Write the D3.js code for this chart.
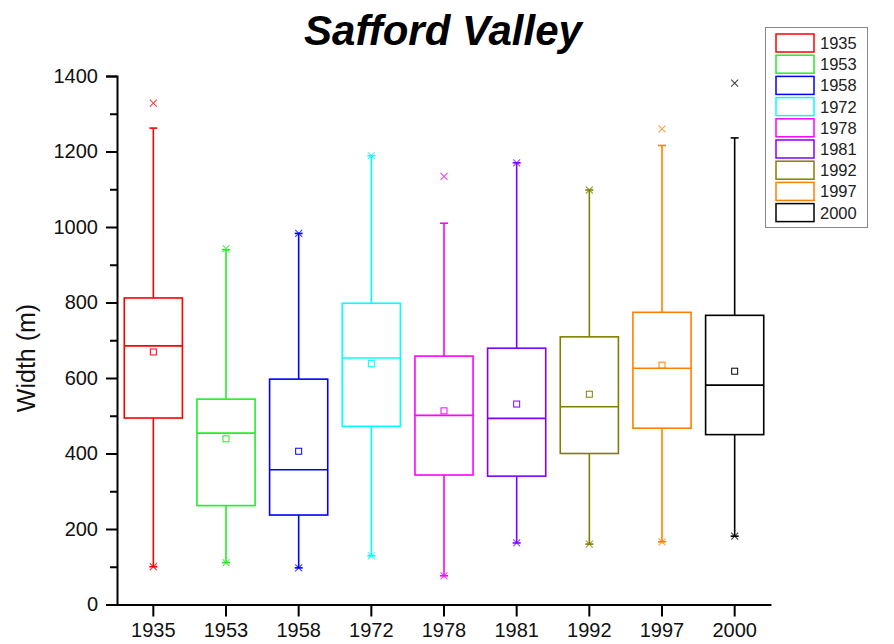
<!DOCTYPE html>
<html>
<head>
<meta charset="utf-8">
<script src="https://cdn.jsdelivr.net/npm/d3@7"></script>
<style>
    body { margin: 0; background: #fff; }
    text { font-family: "Liberation Sans", Arial, sans-serif; }
</style>
</head>
<body>
<div id="chartArea"></div>
<script>
const years = ["1935", "1953", "1958", "1972", "1978", "1981", "1992", "1997", "2000"];
const q1Values = [494, 262, 237, 472, 343, 340, 400, 467, 450];
const medianValues = [685, 454, 357, 653, 501, 493, 524, 626, 581];
const q3Values = [812, 544, 597, 798, 658, 679, 709, 774, 766];
const meanValues = [669, 439, 406, 638, 513, 531, 557, 634, 618];
const whiskerLow = [100, 111, 97, 129, 76, 163, 160, 166, 181];
const whiskerHigh = [1262, 940, 983, 1189, 1010, 1170, 1098, 1216, 1236];
const minValues = [100, 111, 97, 129, 76, 163, 160, 166, 181];
const maxValues = [1328, 943, 983, 1189, 1134, 1170, 1098, 1260, 1381];
const yTicks = [0, 200, 400, 600, 800, 1000, 1200, 1400];
const yMinorTicks = [100, 300, 500, 700, 900, 1100, 1300];
const colors = ["#FF0000", "#22EE22", "#0000FF", "#00FFFF", "#FF00FF",
                "#8000FF", "#808000", "#FF8000", "#000000"];

const width = 894;
const height = 644;

const svg = d3
    .select("#chartArea")
    .append("svg")
    .attr("width", width)
    .attr("height", height);

const xScale = d3
    .scaleBand()
    .domain(years)
    .range([117, 771]);

const yScale = d3
    .scaleLinear()
    .domain([0, 1400])
    .range([604.5, 76]);

const boxWidth = xScale.bandwidth() * 0.8;
const capWidth = 8;

// title
svg.append("text")
    .attr("x", 443)
    .attr("y", 45)
    .attr("text-anchor", "middle")
    .style("font-size", "42px")
    .style("font-weight", "700")
    .style("font-style", "italic")
    .attr("fill", "#000")
    .text("Safford Valley");

// y axis
const yAxis = d3.axisLeft(yScale)
    .tickValues(yTicks)
    .tickSize(11)
    .tickPadding(8)
    .tickFormat(d3.format("d"));

const yAxisGroup = svg.append("g")
    .attr("transform", "translate(117,0)")
    .call(yAxis);

yAxisGroup.selectAll("text")
    .style("font-size", "20px")
    .attr("fill", "#111");

const yMinor = d3.axisLeft(yScale)
    .tickValues(yMinorTicks)
    .tickSize(7)
    .tickFormat("");

svg.append("g")
    .attr("transform", "translate(117,0)")
    .call(yMinor)
    .select(".domain").remove();

// x axis
const xAxis = d3.axisBottom(xScale)
    .tickSize(12)
    .tickPadding(6)
    .tickSizeOuter(0);

const xAxisGroup = svg.append("g")
    .attr("transform", "translate(0,604.5)")
    .call(xAxis);

xAxisGroup.selectAll("text")
    .style("font-size", "20px")
    .attr("fill", "#111");

svg.selectAll(".domain, .tick line")
    .attr("stroke", "#000")
    .attr("stroke-width", 2);

// y label
svg.append("text")
    .attr("transform", "translate(35,358) rotate(-90)")
    .attr("text-anchor", "middle")
    .style("font-size", "25px")
    .attr("fill", "#111")
    .text("Width (m)");

// boxes
const boxes = svg.append("g")
    .selectAll("g")
    .data(years)
    .join("g")
    .attr("stroke", (d, i) => colors[i])
    .attr("stroke-width", 1.6)
    .attr("fill", "none");

boxes.each(function (d, i) {
    const g = d3.select(this);
    const cx = xScale(d) + xScale.bandwidth() / 2;

    // whiskers
    g.append("line")
        .attr("x1", cx).attr("x2", cx)
        .attr("y1", yScale(q3Values[i])).attr("y2", yScale(whiskerHigh[i]));
    g.append("line")
        .attr("x1", cx).attr("x2", cx)
        .attr("y1", yScale(q1Values[i])).attr("y2", yScale(whiskerLow[i]));
    g.append("line")
        .attr("x1", cx - capWidth / 2).attr("x2", cx + capWidth / 2)
        .attr("y1", yScale(whiskerHigh[i])).attr("y2", yScale(whiskerHigh[i]));
    g.append("line")
        .attr("x1", cx - capWidth / 2).attr("x2", cx + capWidth / 2)
        .attr("y1", yScale(whiskerLow[i])).attr("y2", yScale(whiskerLow[i]));

    // box
    g.append("rect")
        .attr("x", cx - boxWidth / 2)
        .attr("y", yScale(q3Values[i]))
        .attr("width", boxWidth)
        .attr("height", yScale(q1Values[i]) - yScale(q3Values[i]));
    g.append("line")
        .attr("x1", cx - boxWidth / 2).attr("x2", cx + boxWidth / 2)
        .attr("y1", yScale(medianValues[i])).attr("y2", yScale(medianValues[i]));

    // mean
    g.append("rect")
        .attr("x", cx - 3)
        .attr("y", yScale(meanValues[i]) - 3)
        .attr("width", 6)
        .attr("height", 6)
        .attr("stroke-width", 1);

    // min/max crosses
    [minValues[i], maxValues[i]].forEach((v) => {
        const y = yScale(v);
        g.append("path")
            .attr("d", `M${cx - 3.5},${y - 3.5}L${cx + 3.5},${y + 3.5}M${cx - 3.5},${y + 3.5}L${cx + 3.5},${y - 3.5}`)
            .attr("stroke-width", 1.1)
            .style("opacity", 0.75);
    });
});

// legend
const legend = svg.append("g");

legend.append("rect")
    .attr("x", 765.5)
    .attr("y", 27.5)
    .attr("width", 102)
    .attr("height", 200)
    .attr("fill", "#fff")
    .attr("stroke", "#888")
    .attr("stroke-width", 1);

const legendItems = legend.selectAll(".item")
    .data(years)
    .join("g")
    .attr("class", "item")
    .attr("transform", (d, i) => `translate(776,${34 + i * 21.2})`);

legendItems.append("rect")
    .attr("width", 38)
    .attr("height", 18)
    .attr("fill", "none")
    .attr("stroke", (d, i) => colors[i])
    .attr("stroke-width", 1.5);

legendItems.append("text")
    .attr("x", 44)
    .attr("y", 15)
    .style("font-size", "16.5px")
    .attr("fill", "#222")
    .text((d) => d);
</script>
</body>
</html>
